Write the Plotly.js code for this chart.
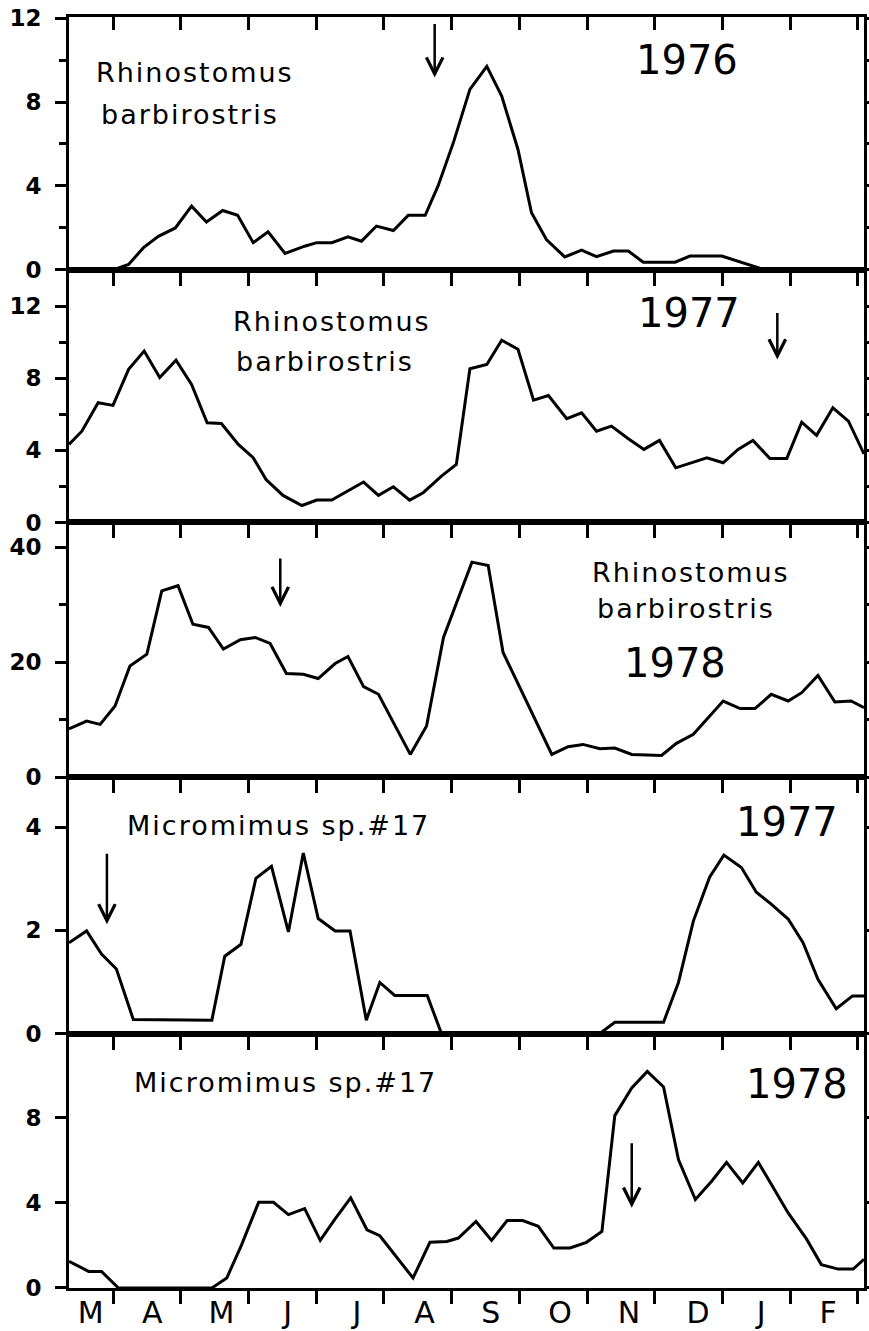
<!DOCTYPE html>
<html>
<head>
<meta charset="utf-8">
<script src="https://cdn.plot.ly/plotly-3.0.1.min.js"></script>
<style>
html,body{margin:0;padding:0;background:#fff;}
#chart{width:869px;height:1331px;}
</style>
</head>
<body>
<div id="chart"></div>
<script>
// x positions in months (1 = 1 April, 12 = 1 March); month tick boundaries at 1..12
var monthBounds = [1,2,3,4,5,6,7,8,9,10,11,12];
var monthLabels = ['M','A','M','J','J','A','S','O','N','D','J','F'];
var monthLabelPos = [0.67,1.58,2.6,3.58,4.6,5.6,6.58,7.6,8.62,9.64,10.57,11.56];

// Panel 1: Rhinostomus barbirostris 1976
var x1 = [0.35,1.0,1.23,1.45,1.67,1.92,2.16,2.38,2.62,2.84,3.07,3.29,3.54,3.83,4.01,4.23,4.47,4.67,4.89,5.14,5.36,5.61,5.80,6.03,6.27,6.52,6.74,6.98,7.18,7.40,7.67,7.92,8.14,8.39,8.61,8.83,9.30,9.52,9.99,10.45,10.63,12.09];
var y1 = [0,0,0.26,1.06,1.6,2.0,3.04,2.28,2.83,2.6,1.3,1.82,0.79,1.13,1.3,1.3,1.58,1.37,2.09,1.88,2.6,2.6,4.0,6.1,8.6,9.7,8.28,5.74,2.72,1.45,0.62,0.94,0.63,0.9,0.9,0.37,0.37,0.66,0.66,0.21,0,0];

// Panel 2: Rhinostomus barbirostris 1977
var x2 = [0.35,0.54,0.78,1.0,1.23,1.46,1.69,1.93,2.16,2.39,2.6,2.85,3.07,3.26,3.51,3.79,4.01,4.23,4.7,4.92,5.14,5.38,5.58,5.85,6.07,6.27,6.52,6.74,6.98,7.21,7.43,7.7,7.92,8.14,8.36,8.61,8.84,9.07,9.31,9.54,9.77,10.01,10.23,10.45,10.7,10.95,11.17,11.39,11.63,11.86,12.09];
var y2 = [4.33,5.06,6.64,6.49,8.49,9.5,8.03,9.0,7.65,5.53,5.49,4.33,3.59,2.38,1.5,0.94,1.24,1.24,2.24,1.5,1.98,1.24,1.65,2.57,3.22,8.52,8.76,10.1,9.6,6.78,7.04,5.75,6.08,5.06,5.34,4.64,4.05,4.55,3.03,3.31,3.59,3.31,4.05,4.55,3.55,3.55,5.56,4.83,6.36,5.62,3.8];

// Panel 3: Rhinostomus barbirostris 1978
var x3 = [0.35,0.61,0.81,1.03,1.25,1.5,1.72,1.96,2.18,2.41,2.63,2.88,3.1,3.32,3.56,3.81,4.03,4.28,4.47,4.7,4.92,5.39,5.63,5.88,6.3,6.54,6.76,7.48,7.72,7.94,8.19,8.41,8.66,9.1,9.32,9.57,10.01,10.26,10.48,10.72,10.97,11.17,11.41,11.66,11.9,12.09];
var y3 = [8.4,9.77,9.19,12.38,19.35,21.4,32.4,33.3,26.6,26.05,22.27,23.9,24.3,23.26,18.03,17.9,17.16,19.77,21.0,15.76,14.42,3.96,8.9,24.3,37.4,36.8,21.7,3.96,5.3,5.7,4.95,5.06,3.96,3.78,5.88,7.45,13.25,11.93,11.93,14.42,13.25,14.7,17.7,13.08,13.25,12.1];

// Panel 4: Micromimus sp.#17 1977
var x4 = [0.35,0.61,0.83,1.05,1.3,2.46,2.65,2.89,3.11,3.34,3.59,3.81,4.03,4.28,4.5,4.74,4.94,5.16,5.64,5.85,8.19,8.41,9.13,9.35,9.57,9.81,10.02,10.28,10.5,10.72,10.97,11.19,11.41,11.68,11.92,12.09];
var y4 = [1.76,1.99,1.54,1.25,0.27,0.26,1.5,1.73,3.01,3.24,1.97,3.5,2.23,1.99,1.99,0.26,0.99,0.74,0.74,0,0,0.22,0.22,0.99,2.18,3.03,3.46,3.22,2.74,2.51,2.22,1.76,1.05,0.48,0.73,0.73];

// Panel 5: Micromimus sp.#17 1978
var x5 = [0.35,0.64,0.83,1.08,2.46,2.68,2.9,3.15,3.37,3.59,3.83,4.06,4.28,4.51,4.75,4.94,5.43,5.68,5.93,6.1,6.36,6.59,6.82,7.05,7.28,7.51,7.75,7.99,8.22,8.41,8.66,8.89,9.13,9.35,9.6,9.84,10.06,10.3,10.53,10.75,10.97,11.24,11.46,11.71,11.93,12.09];
var y5 = [1.25,0.78,0.78,0,0,0.47,2.04,4.03,4.03,3.45,3.73,2.24,3.25,4.24,2.74,2.46,0.47,2.15,2.19,2.35,3.13,2.24,3.17,3.17,2.9,1.88,1.88,2.15,2.66,8.11,9.41,10.19,9.46,6.04,4.16,5.02,5.91,4.94,5.91,4.71,3.53,2.31,1.1,0.89,0.89,1.35];

// y axis tick labels per panel
var yTicks = [[0,4,8,12],[0,4,8,12],[0,20,40],[0,2,4],[0,4,8]];
var yMinor = [[2,6,10],[2,6,10],[10,30],[],[]];
var yRanges = [[0,12.05],[0,14.0],[0,44.3],[0,4.97],[0,11.97]];

// Text labels: [panel, text, x, y, size]
var labels = [
  [1,'Rhinostomus',2.21,9.4,27],[1,'barbirostris',2.13,7.4,27],[1,'1976',9.47,10.0,40],
  [2,'Rhinostomus',4.24,11.12,27],[2,'barbirostris',4.13,8.95,27],[2,'1977',9.5,11.59,40],
  [3,'Rhinostomus',9.53,35.6,27],[3,'barbirostris',9.46,29.4,27],[3,'1978',9.3,19.8,40],
  [4,'Micromimus sp.#17',3.44,4.04,27],[4,'1977',10.96,4.11,40],
  [5,'Micromimus sp.#17',3.54,9.68,27],[5,'1978',11.1,9.61,40]
];
// Arrows: [panel, x, tip y, length px]
var arrows = [[1,5.75,9.17,55],[2,10.81,9.04,48],[3,3.47,29.6,50],[4,0.91,2.12,72],[5,8.66,3.78,66]];

var xs = [x1,x2,x3,x4,x5], ys = [y1,y2,y3,y4,y5];
var domains = [[0.801,1],[0.6023,0.801],[0.4019,0.6023],[0.2002,0.4019],[0,0.2002]];
var xr = [0.35,12.09];
var traces = [];
var layout = {
  width:869, height:1331,
  margin:{l:69,r:5,t:17,b:43},
  paper_bgcolor:'#fff', plot_bgcolor:'#fff',
  showlegend:false,
  font:{family:'DejaVu Sans', color:'#000'},
  annotations:[]
};
for (var i=0;i<5;i++){
  var sfx = i===0 ? '' : String(i+1);
  traces.push({type:'scatter', mode:'lines', x:xs[i], y:ys[i], xaxis:'x'+sfx, yaxis:'y'+sfx,
    line:{color:'#000', width:3}, hoverinfo:'skip'});
  layout['xaxis'+sfx] = {domain:[0,1], anchor:'y'+sfx, range:xr, tickmode:'array', tickvals:monthBounds,
    ticks:'outside', ticklen:13, tickwidth:3, tickcolor:'#000', showticklabels:false,
    showline:true, linewidth:3, linecolor:'#000', mirror:true, showgrid:false, zeroline:false, fixedrange:true};
  var ya = {domain:domains[i], anchor:'x'+sfx, range:yRanges[i], tickmode:'array', tickvals:yTicks[i],
    ticks:'outside', ticklen:11, tickwidth:3, tickcolor:'#000', ticklabelstandoff:9,
    tickfont:{family:'DejaVu Sans', size:23, weight:'bold', color:'#000'},
    showline:true, linewidth:3, linecolor:'#000', mirror:'ticks', showgrid:false, zeroline:false, fixedrange:true};
  if (yMinor[i].length){
    ya.minor = {tickmode:'array', tickvals:yMinor[i], ticks:'outside', ticklen:7, tickwidth:3, tickcolor:'#000', showgrid:false};
  }
  layout['yaxis'+sfx] = ya;
}
// month letters under bottom panel
layout.xaxis6 = {overlaying:'x5', anchor:'y5', side:'bottom', range:xr, tickmode:'array',
  tickvals:monthLabelPos, ticktext:monthLabels, ticks:'', showline:false, showgrid:false, zeroline:false,
  tickfont:{family:'DejaVu Sans', size:30, color:'#000'}, ticklabelstandoff:4, fixedrange:true};
// inward ticks on top of first panel
layout.xaxis7 = {overlaying:'x', anchor:'y', side:'top', range:xr, tickmode:'array', tickvals:monthBounds,
  ticks:'inside', ticklen:13, tickwidth:3, tickcolor:'#000', showticklabels:false, showline:false,
  showgrid:false, zeroline:false, fixedrange:true};
traces.push({type:'scatter', mode:'lines', x:[], y:[], xaxis:'x6', yaxis:'y5', hoverinfo:'skip'});
traces.push({type:'scatter', mode:'lines', x:[], y:[], xaxis:'x7', yaxis:'y', hoverinfo:'skip'});

labels.forEach(function(l){
  var sfx = l[0]===1 ? '' : String(l[0]);
  layout.annotations.push({xref:'x'+sfx, yref:'y'+sfx, x:l[2], y:l[3], text:l[1], showarrow:false,
    xanchor:'center', yanchor:'middle', font:{family:'DejaVu Sans', size:l[4], color:'#000'}});
});
arrows.forEach(function(a){
  var sfx = a[0]===1 ? '' : String(a[0]);
  layout.annotations.push({xref:'x'+sfx, yref:'y'+sfx, x:a[1], y:a[2], text:'', showarrow:true,
    axref:'pixel', ayref:'pixel', ax:0, ay:-a[3], arrowhead:5, arrowsize:1.3, arrowwidth:2.5,
    arrowcolor:'#000', standoff:0});
});

Plotly.newPlot('chart', traces, layout, {staticPlot:true, displayModeBar:false}).then(function(){
  document.querySelectorAll('.annotation-text').forEach(function(t){
    if (/[a-z]/i.test(t.textContent)) t.style.letterSpacing = '2px';
  });
});
</script>
</body>
</html>
